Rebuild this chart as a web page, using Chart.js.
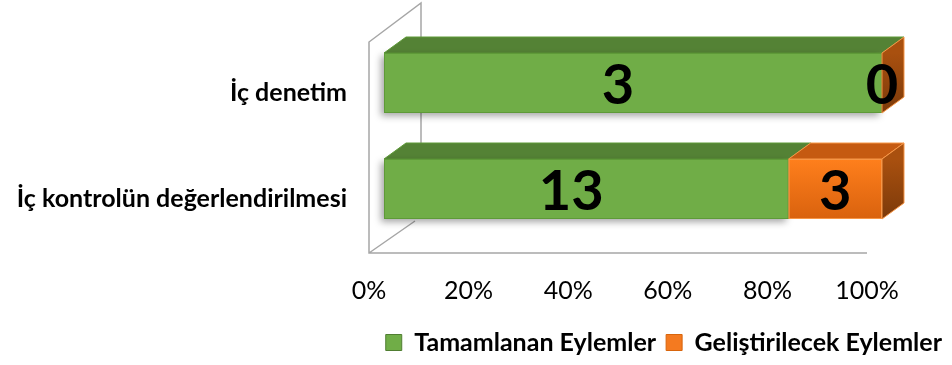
<!DOCTYPE html>
<html lang="tr">
<head>
<meta charset="utf-8">
<script src="https://cdn.jsdelivr.net/npm/chart.js@4.4.1/dist/chart.umd.min.js"></script>
<style>
  html, body { margin: 0; padding: 0; background: #fff; }
  #kutu { width: 952px; height: 365px; }
</style>
</head>
<body>
<div id="kutu"><canvas id="grafikEylem" width="952" height="365"></canvas></div>
<script>
// VERİLER
const kategoriler = ['İç denetim', 'İç kontrolün değerlendirilmesi'];
const seriAdlari = ['Tamamlanan Eylemler', 'Geliştirilecek Eylemler'];
const tamamlanan = [3, 13];
const gelistirilecek = [0, 3];
const eksenDegerleri = [0, 20, 40, 60, 80, 100];

// yüzde değerler (100% yığılmış çubuk)
const toplamlar = tamamlanan.map((v, i) => v + gelistirilecek[i]);
const yuzde = arr => arr.map((v, i) => v / toplamlar[i] * 100);
const ham = [tamamlanan, gelistirilecek];

// RENKLER
const RENKLER = [
    { on: ['#70AD47', '#70AD47'], ust: '#548235', yan: ['#4E7A30', '#3F6426'], kenar: '#5E9A38', lejant: '#70AD47', lejantKenar: '#507E32' },
    { on: ['#FF7F1C', '#D9620E'], ust: '#C55A11', yan: ['#A9500F', '#7C3A0A'], kenar: '#F79646', lejant: '#F47A20', lejantKenar: '#D8650C' }
];

const ON = { dx: 15, dy: -10 };       // ön yüzün zemine göre kayması
const DERIN = { dx: 22, dy: -16 };    // çubuk derinliği
const ETIKET_KAYMA = [0, ON.dx];
const YAZI = 'Lato, "Open Sans", sans-serif';
const UST_BOSLUK = 40, ALAN_YUKSEKLIK = 212;

function cokgen(ctx, pts, dolgu, kenar) {
    ctx.beginPath();
    ctx.moveTo(pts[0][0], pts[0][1]);
    for (let i = 1; i < pts.length; i++) ctx.lineTo(pts[i][0], pts[i][1]);
    ctx.closePath();
    ctx.fillStyle = dolgu;
    ctx.fill();
    if (kenar) { ctx.strokeStyle = kenar; ctx.lineWidth = 1; ctx.stroke(); }
}

// sol duvar + zemin çizgisi
const duvarPlugin = {
    id: 'duvar',
    beforeDatasetsDraw(chart) {
        const { ctx, chartArea: a } = chart;
        const L = a.left, B = a.bottom + 1;
        ctx.save();
        ctx.strokeStyle = '#A6A6A6';
        ctx.lineWidth = 1.5;
        ctx.beginPath();
        ctx.moveTo(a.right, B);
        ctx.lineTo(L, B);
        ctx.lineTo(L, a.top + 2);
        ctx.lineTo(L + 52, a.top - 37);
        ctx.lineTo(L + 52, B - 36);
        ctx.moveTo(L, B);
        ctx.lineTo(L + 46, B - 32);
        ctx.stroke();
        ctx.restore();
    }
};

// 3B çubuklar ve değer etiketleri
const cubukPlugin = {
    id: 'cubuk3b',
    afterDatasetsDraw(chart) {
        const { ctx } = chart;
        const metalar = chart.data.datasets.map((d, i) => chart.getDatasetMeta(i));
        const son = metalar.length - 1;
        ctx.save();
        for (let k = 0; k < chart.data.labels.length; k++) {
            metalar.forEach((meta, j) => {
                const el = meta.data[k];
                const r = RENKLER[j];
                const x0 = Math.min(el.base, el.x) + ON.dx;
                const x1 = Math.max(el.base, el.x) + ON.dx;
                const y0 = el.y - el.height / 2 + ON.dy;
                const y1 = el.y + el.height / 2 + ON.dy;

                // üst yüz
                cokgen(ctx, [[x0, y0], [x0 + DERIN.dx, y0 + DERIN.dy], [x1 + DERIN.dx, y0 + DERIN.dy], [x1, y0]], r.ust, x1 - x0 > 0.5 ? r.kenar : null);

                // sağ yan yüz
                if (j === son) {
                    const g = ctx.createLinearGradient(0, y0, 0, y1);
                    g.addColorStop(0, r.yan[0]);
                    g.addColorStop(1, r.yan[1]);
                    cokgen(ctx, [[x1, y0], [x1 + DERIN.dx, y0 + DERIN.dy], [x1 + DERIN.dx, y1 + DERIN.dy], [x1, y1]], g, r.kenar);
                }

                // ön yüz
                if (x1 - x0 > 0.5) {
                    const g = ctx.createLinearGradient(0, y0, 0, y1);
                    g.addColorStop(0, r.on[0]);
                    g.addColorStop(1, r.on[1]);
                    ctx.save();
                    if (j === 0) {
                        ctx.shadowColor = 'rgba(0,0,0,0.35)';
                        ctx.shadowBlur = 7;
                        ctx.shadowOffsetX = -3;
                        ctx.shadowOffsetY = 3;
                    }
                    cokgen(ctx, [[x0, y0], [x1, y0], [x1, y1], [x0, y1]], g, null);
                    ctx.restore();
                    ctx.strokeStyle = r.kenar;
                    ctx.lineWidth = 1;
                    ctx.strokeRect(x0 + 0.5, y0 + 0.5, x1 - x0 - 1, y1 - y0 - 1);
                }
            });
        }

        // değer etiketleri
        ctx.font = 'bold 56px ' + YAZI;
        ctx.fillStyle = '#000';
        ctx.textAlign = 'center';
        ctx.textBaseline = 'middle';
        metalar.forEach((meta, j) => {
            meta.data.forEach((el, k) => {
                const x = (el.base + el.x) / 2 + ETIKET_KAYMA[j];
                ctx.fillText(String(ham[j][k]), x, el.y + ON.dy + 3);
            });
        });
        ctx.restore();
    }
};

function ciz() {
    new Chart(document.getElementById('grafikEylem'), {
        type: 'bar',
        data: {
            labels: kategoriler,
            datasets: [
                { label: seriAdlari[0], data: yuzde(tamamlanan), backgroundColor: 'rgba(0,0,0,0)' },
                { label: seriAdlari[1], data: yuzde(gelistirilecek), backgroundColor: 'rgba(0,0,0,0)' }
            ]
        },
        options: {
            indexAxis: 'y',
            responsive: false,
            devicePixelRatio: 1,
            animation: false,
            datasets: { bar: { barPercentage: 0.566, categoryPercentage: 1 } },
            layout: { padding: { top: UST_BOSLUK, left: 10, right: 0, bottom: 0 } },
            scales: {
                x: {
                    stacked: true, min: 0, max: 100,
                    grid: { display: false, drawTicks: false }, border: { display: false },
                    afterBuildTicks: s => { s.ticks = eksenDegerleri.map(v => ({ value: v })); },
                    afterFit: s => {
                        const lejant = s.chart.legend ? s.chart.legend.height : 0;
                        s.height = s.chart.height - UST_BOSLUK - ALAN_YUKSEKLIK - lejant;
                    },
                    ticks: { padding: 24, color: '#000', font: { family: YAZI, size: 25 }, callback: v => v + '%' }
                },
                y: {
                    stacked: true, offset: true,
                    grid: { display: false, drawTicks: false }, border: { display: false },
                    afterFit: s => { s.width = 359; },
                    ticks: { padding: 22, color: '#000', font: { family: YAZI, size: 25, weight: 'bold' } }
                },
                bosluk: {
                    type: 'category', position: 'right', display: true,
                    grid: { display: false, drawTicks: false }, border: { display: false },
                    ticks: { display: false },
                    afterFit: s => { s.width = 85; }
                }
            },
            plugins: {
                tooltip: { enabled: false },
                legend: {
                    position: 'bottom', align: 'end',
                    labels: {
                        boxWidth: 16, boxHeight: 16, padding: 10,
                        color: '#000', font: { family: YAZI, size: 25, weight: 'bold' },
                        generateLabels: chart => chart.data.datasets.map((ds, i) => ({
                            text: ds.label, fillStyle: RENKLER[i].lejant, strokeStyle: RENKLER[i].lejantKenar,
                            lineWidth: 1, hidden: false, datasetIndex: i
                        }))
                    }
                }
            }
        },
        plugins: [duvarPlugin, cubukPlugin]
    });
}

if (document.fonts && document.fonts.load) {
    Promise.all([
        document.fonts.load('bold 56px Lato'),
        document.fonts.load('25px Lato')
    ]).then(ciz, ciz);
} else {
    ciz();
}
</script>
</body>
</html>
